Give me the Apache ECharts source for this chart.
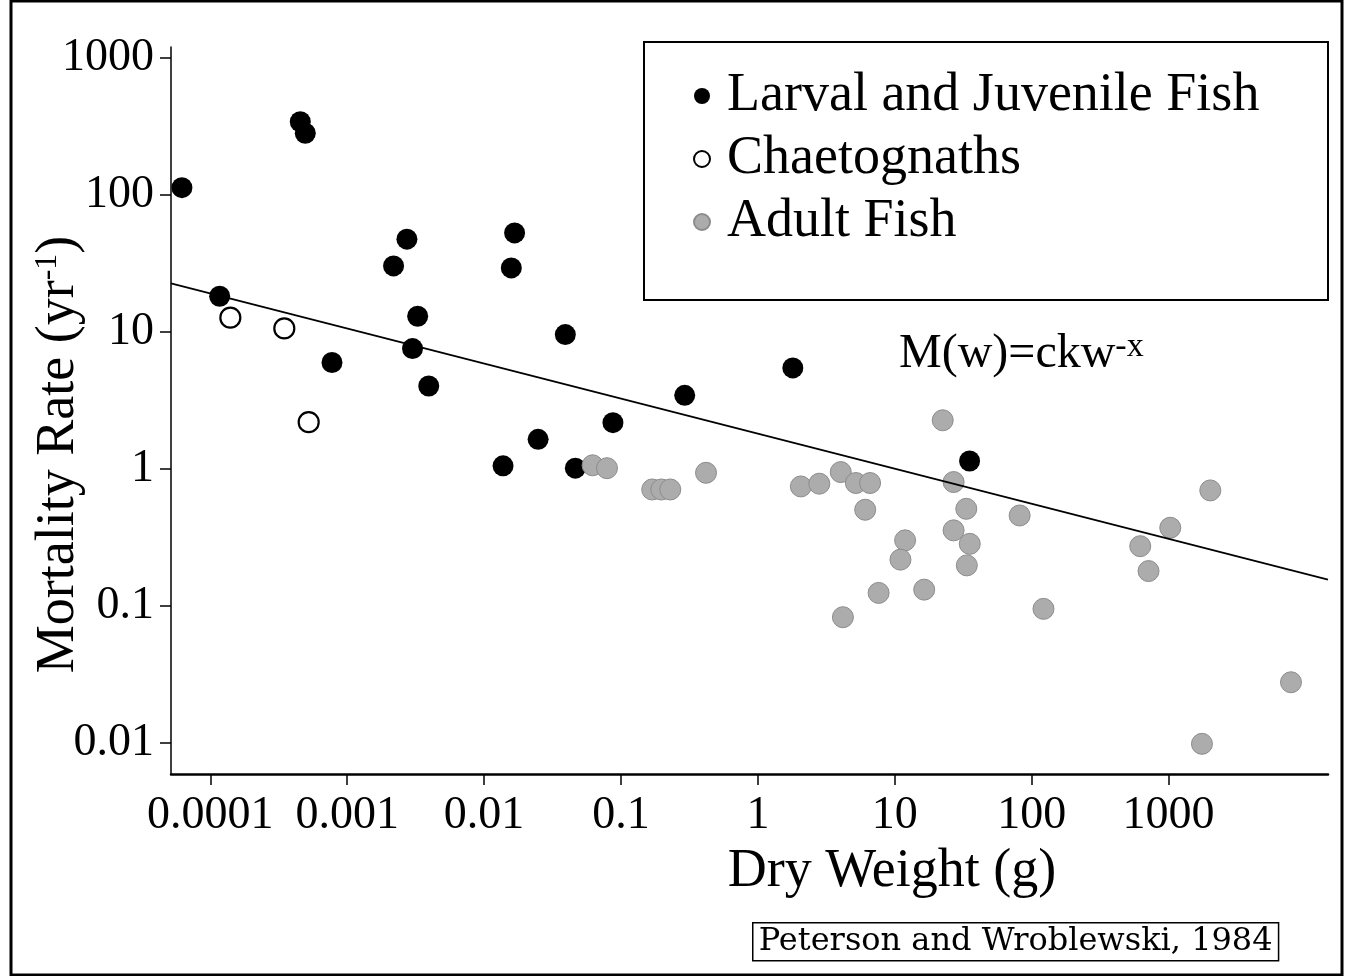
<!DOCTYPE html>
<html>
<head>
<meta charset="utf-8">
<title>Mortality rate vs dry weight</title>
<script src="https://cdn.jsdelivr.net/npm/echarts@6/dist/echarts.min.js"></script>
<style>
  html, body { margin: 0; padding: 0; background: #fff; }
  #chart { width: 1346px; height: 976px; }
</style>
</head>
<body>
<div id="chart"></div>
<script>
// values: dry weight (g) vs mortality rate (1/yr)
const larvalX = [6.2e-5, 4.54e-4, 4.94e-4, 1.17e-4, 7.74e-4, 2.73e-3, 2.18e-3, 3.27e-3, 3.0e-3, 3.94e-3,
  0.0167, 0.0158, 0.0392, 1.80, 0.292, 0.0873, 0.0248, 0.01375, 0.0464, 35.2];
const larvalY = [113, 342, 282, 18.2, 5.97, 47.5, 30.3, 13.0, 7.55, 4.02,
  52.8, 29.3, 9.55, 5.45, 3.44, 2.17, 1.64, 1.05, 1.01, 1.14];

const chaetoX = [1.40e-4, 3.47e-4, 5.23e-4];
const chaetoY = [12.7, 10.6, 2.19];

const adultX = [0.062, 0.079, 0.169, 0.197, 0.229, 0.418, 2.06, 2.81, 4.03, 5.2, 6.6, 6.08,
  22.4, 26.9, 33.3, 26.9, 35.3, 33.6, 11.9, 11.0, 7.62, 16.4, 4.18, 81.7, 122,
  2018, 1029, 621, 714, 7840, 1754];
const adultY = [1.06, 1.01, 0.706, 0.706, 0.706, 0.935, 0.743, 0.778, 0.946, 0.787, 0.787, 0.502,
  2.26, 0.80, 0.51, 0.355, 0.283, 0.197, 0.30, 0.217, 0.124, 0.131, 0.0824, 0.456, 0.0948,
  0.695, 0.371, 0.272, 0.179, 0.0276, 0.0098];

// fitted line M(w) = ckw^-x, end points as drawn
const fitX = [5.16e-5, 14616];
const fitY = [22.6, 0.155];

const xTickValues = [0.0001, 0.001, 0.01, 0.1, 1, 10, 100, 1000];
const xTickLabels = ['0.0001', '0.001', '0.01', '0.1', '1', '10', '100', '1000'];
const yTickValues = [0.01, 0.1, 1, 10, 100, 1000];
const yTickLabels = ['0.01', '0.1', '1', '10', '100', '1000'];

const xMin = 5.16e-5, xMax = 14616;
const yMin = 0.0059, yMax = 1203;

const serif = '"Liberation Serif", "Times New Roman", serif';

const zip = (xs, ys) => xs.map((x, i) => [x, ys[i]]);
const labelFor = (vals, labels) => v => {
  const i = vals.findIndex(t => Math.abs(Math.log10(t) - Math.log10(v)) < 1e-6);
  return i < 0 ? '' : labels[i];
};

const chart = echarts.init(document.getElementById('chart'), null, { renderer: 'canvas' });

const option = {
  animation: false,
  backgroundColor: '#fff',
  grid: { left: 171, right: 18, top: 47, bottom: 202, outerBoundsMode: 'none' },
  legend: {
    orient: 'vertical',
    left: 688,
    top: 64,
    itemWidth: 40,
    itemHeight: 16,
    itemGap: 9,
    textStyle: { fontFamily: serif, fontSize: 54, color: '#000' },
    data: ['Larval and Juvenile Fish', 'Chaetognaths', 'Adult Fish']
  },
  xAxis: {
    type: 'log',
    logBase: 10,
    min: xMin,
    max: xMax,
    splitLine: { show: false },
    axisLine: { lineStyle: { color: '#000', width: 2.5 } },
    axisTick: { customValues: xTickValues, length: 11, lineStyle: { color: '#000', width: 1.5 } },
    axisLabel: {
      customValues: xTickValues,
      formatter: labelFor(xTickValues, xTickLabels),
      fontFamily: serif, fontSize: 46, color: '#000', margin: 19
    },
    name: 'Dry Weight (g)',
    nameLocation: 'middle',
    nameGap: 71,
    nameMoveOverlap: false,
    nameTextStyle: { fontFamily: serif, fontSize: 54, color: '#000', padding: [0, 0, 0, 285] }
  },
  yAxis: {
    type: 'log',
    logBase: 10,
    min: yMin,
    max: yMax,
    splitLine: { show: false },
    axisLine: { lineStyle: { color: '#000', width: 1.5 } },
    axisTick: { customValues: yTickValues, length: 11, lineStyle: { color: '#000', width: 1.5 } },
    axisLabel: {
      customValues: yTickValues,
      formatter: labelFor(yTickValues, yTickLabels),
      fontFamily: serif, fontSize: 46, color: '#000', margin: 17
    },
    name: '{m|Mortality Rate (yr}{s|-1}{m|)}',
    nameLocation: 'middle',
    nameGap: 85,
    nameMoveOverlap: false,
    nameTextStyle: {
      padding: [0, 88, 0, 0],
      rich: {
        m: { fontFamily: serif, fontSize: 54, color: '#000', lineHeight: 54 },
        s: { fontFamily: serif, fontSize: 32, color: '#000', verticalAlign: 'top', lineHeight: 32 }
      }
    }
  },
  series: [
    {
      name: 'Larval and Juvenile Fish',
      type: 'scatter',
      symbol: 'circle',
      symbolSize: 21,
      itemStyle: { color: '#000', opacity: 1 },
      data: zip(larvalX, larvalY),
      z: 2
    },
    {
      name: 'Chaetognaths',
      type: 'scatter',
      symbol: 'circle',
      symbolSize: 20,
      itemStyle: { color: '#fff', borderColor: '#000', borderWidth: 2.2, opacity: 1 },
      data: zip(chaetoX, chaetoY),
      z: 2
    },
    {
      name: 'Adult Fish',
      type: 'scatter',
      symbol: 'circle',
      symbolSize: 21,
      itemStyle: { color: '#acacac', borderColor: '#8c8c8c', borderWidth: 1, opacity: 1 },
      data: zip(adultX, adultY),
      z: 3
    },
    {
      name: 'fit',
      type: 'line',
      showSymbol: false,
      symbol: 'none',
      lineStyle: { color: '#000', width: 1.6 },
      data: zip(fitX, fitY),
      z: 4
    }
  ],
  graphic: [
    {
      // outer frame
      type: 'rect',
      silent: true,
      shape: { x: 11, y: 1, width: 1331, height: 974 },
      style: { fill: 'none', stroke: '#000', lineWidth: 3 }
    },
    {
      // legend box
      type: 'rect',
      silent: true,
      shape: { x: 644, y: 42, width: 684, height: 258 },
      style: { fill: 'none', stroke: '#000', lineWidth: 2 }
    },
    {
      type: 'text',
      silent: true,
      left: 899,
      top: 330,
      style: {
        text: '{m|M(w)=ckw}{s|-x}',
        rich: {
          m: { fontFamily: serif, fontSize: 48, fill: '#000', lineHeight: 48 },
          s: { fontFamily: serif, fontSize: 34, fill: '#000', verticalAlign: 'top', lineHeight: 30 }
        }
      }
    },
    {
      type: 'text',
      silent: true,
      left: 752,
      top: 922,
      style: {
        text: 'Peterson and Wroblewski, 1984',
        font: '32px "DejaVu Serif", serif',
        fill: '#000',
        borderColor: '#000',
        borderWidth: 1.5,
        padding: [3, 6, 3, 6]
      }
    }
  ]
};

chart.setOption(option);
</script>
</body>
</html>
